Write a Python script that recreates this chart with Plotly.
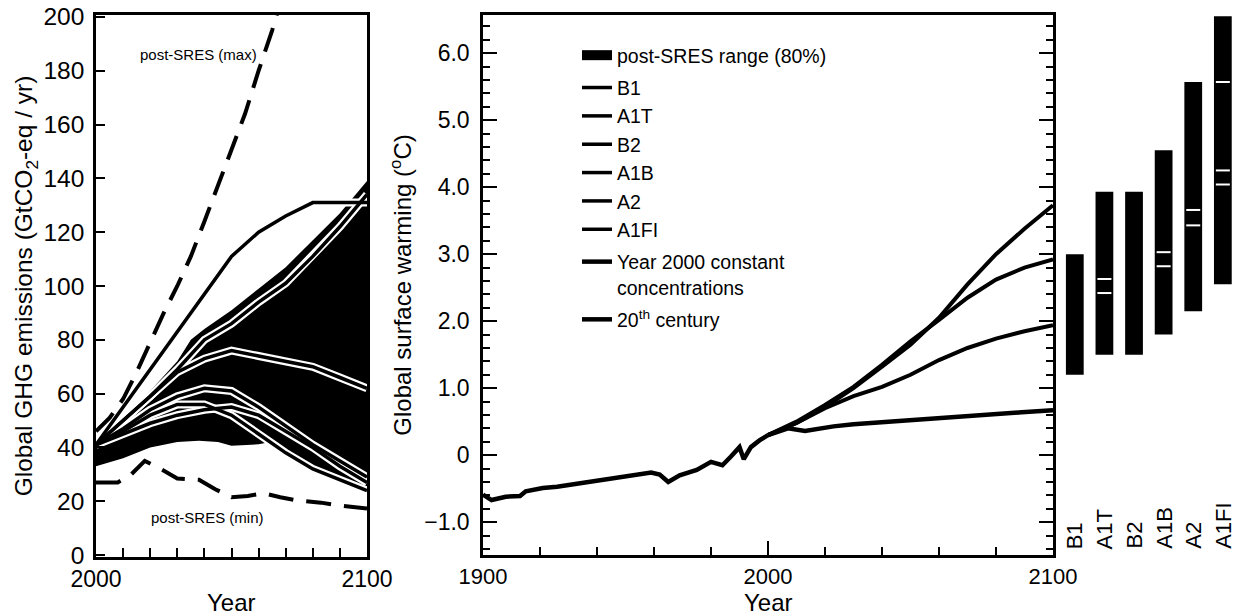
import plotly.graph_objects as go

W, H = 1240, 616
FONT = "Liberation Sans, Arial, Helvetica, sans-serif"

# ---------------- Left panel: emissions (GtCO2-eq / yr) ----------------
fill_upper_year = [2000, 2010, 2020, 2030, 2035, 2040, 2050, 2060, 2070, 2080, 2090, 2100]
fill_upper_val = [41, 51, 61, 72, 80, 84, 91, 99, 107, 117, 127, 139]
fill_lower_year = [2000, 2010, 2020, 2030, 2038, 2045, 2050, 2060, 2064, 2075, 2088, 2100]
fill_lower_val = [33, 36, 40, 42, 42.5, 42, 40.6, 41.2, 41.9, 35, 28.3, 24]

sres_years = [2000, 2010, 2020, 2030, 2040, 2050, 2060, 2070, 2080, 2090, 2100]
em_B1 = [41, 46, 52, 56, 56, 52, 45, 38, 32, 28, 24]
em_A1T = [41, 47, 54, 59, 62, 61, 55, 48, 41, 35, 29]
em_B2 = [41, 45, 49, 52, 54, 55, 52, 46, 40, 33, 27]
em_A1B = [41, 50, 59, 68, 73, 76, 74, 72, 70, 66, 62]
em_A2 = [41, 50, 59, 69, 80, 86, 94, 101, 111, 122, 134]
em_A1FI = [41, 55, 69, 83, 97, 111, 120, 126, 131, 131, 131]

max_years = [2000, 2005, 2010, 2015, 2020, 2025, 2030, 2035, 2040, 2045, 2050, 2055, 2060, 2065, 2070]
max_val = [46, 51, 58, 68, 79, 90, 100, 111, 124, 137, 150, 164, 180, 195, 212]
min_years = [2000, 2008, 2013, 2018, 2024, 2030, 2038, 2044, 2050, 2056, 2062, 2068, 2075, 2083, 2090, 2100]
min_val = [27, 27, 30, 35, 32, 28.5, 28, 24.5, 21.5, 22, 23, 21.5, 20.2, 19.5, 18.4, 17.3]

# ---------------- Middle panel: warming (deg C) ----------------
c20_years = [1900, 1903, 1908, 1913, 1915, 1921, 1926, 1931, 1936, 1941, 1946, 1951, 1955,
             1959, 1962, 1965, 1969, 1975, 1980, 1984, 1987, 1990, 1991.5, 1994, 1997, 2000]
c20_val = [-0.59, -0.67, -0.62, -0.61, -0.54, -0.49, -0.47, -0.44, -0.41, -0.37, -0.35, -0.32, -0.30,
           -0.26, -0.29, -0.40, -0.30, -0.22, -0.10, -0.15, -0.02, 0.12, -0.06, 0.12, 0.22, 0.30]

fut_years = [2000, 2010, 2020, 2030, 2040, 2050, 2060, 2070, 2080, 2090, 2100]
t_B1 = [0.30, 0.48, 0.70, 0.88, 1.02, 1.20, 1.42, 1.60, 1.74, 1.85, 1.94]
t_A1B = [0.30, 0.50, 0.75, 1.02, 1.35, 1.70, 2.02, 2.35, 2.62, 2.80, 2.92]
t_A2 = [0.30, 0.48, 0.72, 1.00, 1.32, 1.65, 2.05, 2.55, 3.00, 3.38, 3.73]
const_years = [2000, 2007, 2013, 2023, 2030, 2039, 2047, 2056, 2064, 2072, 2080, 2089, 2100]
t_const = [0.30, 0.40, 0.36, 0.43, 0.46, 0.49, 0.51, 0.53, 0.56, 0.59, 0.62, 0.64, 0.67]

# ---------------- Right panel: likely ranges at 2090-2099 ----------------
scen = ["B1", "A1T", "B2", "A1B", "A2", "A1FI"]
range_low = [1.2, 1.5, 1.5, 1.8, 2.15, 2.55]
range_high = [3.0, 3.93, 3.93, 4.55, 5.57, 6.55]
mark_scen = ["A1T", "A1T", "A1B", "A1B", "A2", "A2", "A1FI", "A1FI", "A1FI"]
mark_val = [2.63, 2.42, 3.03, 2.82, 3.66, 3.43, 5.57, 4.25, 4.04]

y_ticks_mid = [-1, 0, 1, 2, 3, 4, 5, 6]
y_ticktext_mid = ["\u22121.0", "0", "1.0", "2.0", "3.0", "4.0", "5.0", "6.0"]


def px(x):
    return x / W


def py(y):
    return 1 - y / H


fig = go.Figure()

# left panel fill (post-SRES range)
fig.add_trace(go.Scatter(
    x=fill_upper_year + fill_lower_year[::-1],
    y=fill_upper_val + fill_lower_val[::-1],
    fill="toself", fillcolor="black", mode="lines", line=dict(width=0, color="black"),
    showlegend=False, hoverinfo="skip", xaxis="x", yaxis="y"))

# legend entry for the range
fig.add_trace(go.Scatter(x=[None], y=[None], mode="lines", name="post-SRES range (80%)",
                         line=dict(color="black", width=16), legendgroup="range",
                         xaxis="x2", yaxis="y2"))

sres = [("B1", em_B1), ("A1T", em_A1T), ("B2", em_B2),
        ("A1B", em_A1B), ("A2", em_A2), ("A1FI", em_A1FI)]
for name, vals in sres:
    fig.add_trace(go.Scatter(x=sres_years, y=vals, mode="lines", line=dict(color="white", width=8),
                             showlegend=False, hoverinfo="skip", xaxis="x", yaxis="y"))
for name, vals in sres:
    fig.add_trace(go.Scatter(x=sres_years, y=vals, mode="lines", name=name, legendgroup="sres",
                             line=dict(color="black", width=3.5), xaxis="x", yaxis="y"))

# dashed max/min
fig.add_trace(go.Scatter(x=max_years, y=max_val, mode="lines", showlegend=False,
                         line=dict(color="black", width=4, dash="25px,13px"), xaxis="x", yaxis="y"))
fig.add_trace(go.Scatter(x=min_years, y=min_val, mode="lines", showlegend=False,
                         line=dict(color="black", width=4, dash="25px,13px"), xaxis="x", yaxis="y"))

# middle panel lines
for name, vals in [("B1", t_B1), ("A1B", t_A1B), ("A2", t_A2)]:
    fig.add_trace(go.Scatter(x=fut_years, y=vals, mode="lines", name=name, legendgroup="sres",
                             showlegend=False, line=dict(color="black", width=4),
                             xaxis="x2", yaxis="y2"))
fig.add_trace(go.Scatter(x=const_years, y=t_const, mode="lines",
                         name="Year 2000 constant<br>concentrations", legendgroup="const",
                         line=dict(color="black", width=4.5), xaxis="x2", yaxis="y2"))
fig.add_trace(go.Scatter(x=c20_years, y=c20_val, mode="lines", name="20<sup>th</sup> century",
                         legendgroup="c20", line=dict(color="black", width=4.5), xaxis="x2", yaxis="y2"))

# right panel bars
fig.add_trace(go.Bar(x=scen, y=[h - l for h, l in zip(range_high, range_low)], base=range_low,
                     width=0.6, marker=dict(color="black", line=dict(width=0)),
                     showlegend=False, xaxis="x3", yaxis="y3"))
fig.add_trace(go.Scatter(x=mark_scen, y=mark_val, mode="markers", showlegend=False,
                         marker=dict(symbol="line-ew", size=10, line=dict(color="white", width=2)),
                         xaxis="x3", yaxis="y3"))

annotations = [
    dict(text="post-SRES (max)", x=2038, y=186, xref="x", yref="y", showarrow=False,
         font=dict(size=15, family=FONT, color="black")),
    dict(text="post-SRES (min)", x=2041, y=14, xref="x", yref="y", showarrow=False,
         font=dict(size=15, family=FONT, color="black")),
    dict(text="Year", x=(px(96) + px(367)) / 2, y=0, xref="paper", yref="paper", showarrow=False,
         xanchor="center", yanchor="bottom", yshift=-2, font=dict(size=24, family=FONT, color="black")),
    dict(text="Year", x=(px(483) + px(1053)) / 2, y=0, xref="paper", yref="paper", showarrow=False,
         xanchor="center", yanchor="bottom", yshift=-2, font=dict(size=24, family=FONT, color="black")),
]
for s in scen:
    annotations.append(dict(text=s, x=s, y=-1.49, xref="x3", yref="y3", showarrow=False,
                            textangle=-90, yanchor="bottom", xanchor="center", yshift=4,
                            font=dict(size=22, family=FONT, color="black")))

axis_common = dict(showline=True, linecolor="black", linewidth=2.5, showgrid=False, zeroline=False,
                   tickcolor="black", automargin=False)

fig.update_layout(
    width=W, height=H, margin=dict(l=0, r=0, t=0, b=0, autoexpand=False),
    paper_bgcolor="white", plot_bgcolor="white",
    font=dict(family=FONT, color="black"),
    showlegend=True,
    legend=dict(x=px(577), y=py(36), xanchor="left", yanchor="top", bgcolor="rgba(0,0,0,0)",
                font=dict(size=19.5, family=FONT, color="black"), traceorder="grouped",
                tracegroupgap=4, valign="top"),
    annotations=annotations,
    xaxis=dict(domain=[px(96), px(367)], range=[2000, 2100], tickvals=[2000, 2100],
               ticks="inside", ticklen=0, mirror=True, anchor="y",
               tickfont=dict(size=23, family=FONT, color="black"),
               minor=dict(dtick=10, tick0=2000, ticks="inside", ticklen=9, tickwidth=2, tickcolor="black"),
               **axis_common),
    yaxis=dict(domain=[py(557), py(15)], range=[-0.7, 200.7], dtick=20, tick0=0,
               ticks="inside", ticklen=9, tickwidth=2, mirror=True, anchor="x", ticklabelstandoff=4,
               tickfont=dict(size=24.5, family=FONT, color="black"),
               title=dict(text="Global GHG emissions (GtCO<sub>2</sub>-eq / yr)",
                          font=dict(size=24.5, family=FONT), standoff=4), **axis_common),
    xaxis2=dict(domain=[px(483), px(1053)], range=[1900, 2100], tickvals=[1900, 2000, 2100],
                ticks="inside", ticklen=14, tickwidth=2, mirror=True, anchor="y2",
                tickfont=dict(size=22, family=FONT, color="black"),
                minor=dict(dtick=20, tick0=1900, ticks="inside", ticklen=8, tickwidth=2, tickcolor="black"),
                **axis_common),
    yaxis2=dict(domain=[py(555), py(15)], range=[-1.49, 6.57], tickvals=y_ticks_mid,
                ticktext=y_ticktext_mid, ticks="inside", ticklen=14, tickwidth=2, mirror="ticks",
                anchor="x2", ticklabelstandoff=6,
                tickfont=dict(size=23, family=FONT, color="black"),
                minor=dict(dtick=0.2, tick0=0, ticks="inside", ticklen=7, tickwidth=2, tickcolor="black"),
                title=dict(text="Global surface warming (<sup>o</sup>C)", font=dict(size=24, family=FONT),
                           standoff=6), **axis_common),
    xaxis3=dict(domain=[px(1060), px(1238)], type="category", visible=False, anchor="y3"),
    yaxis3=dict(domain=[py(555), py(15)], range=[-1.49, 6.57], visible=False, anchor="x3"),
)

fig.write_html("out.html", config={"displayModeBar": False},
               post_script="document.body.style.margin='0';")
